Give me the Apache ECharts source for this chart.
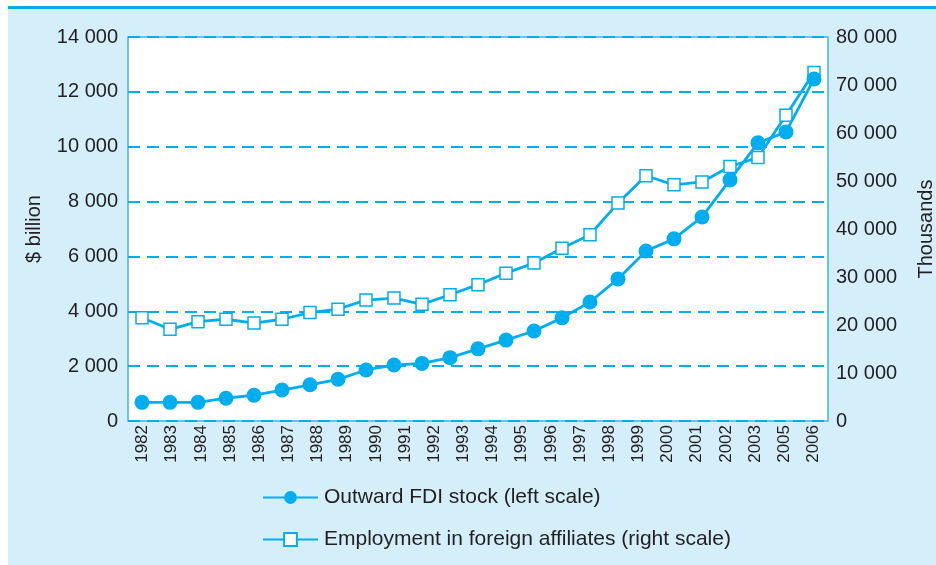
<!DOCTYPE html>
<html>
<head>
<meta charset="utf-8">
<script src="https://cdn.jsdelivr.net/npm/echarts@6/dist/echarts.min.js"></script>
<style>
  html, body { margin: 0; padding: 0; background: #fff; }
  #chart { width: 936px; height: 565px; }
</style>
</head>
<body>
<div id="chart"></div>
<script>
"use strict";
// data years (25 points) and the printed axis labels (24, no 2004)
var years = ['1982','1983','1984','1985','1986','1987','1988','1989','1990','1991','1992','1993',
             '1994','1995','1996','1997','1998','1999','2000','2001','2002','2003','2004','2005','2006'];
var yearLabels = ['1982','1983','1984','1985','1986','1987','1988','1989','1990','1991','1992','1993',
                  '1994','1995','1996','1997','1998','1999','2000','2001','2002','2003','2005','2006'];
// $ billion
var fdiStock = [680, 680, 680, 830, 940, 1130, 1320, 1520, 1860, 2040, 2100, 2310,
                2630, 2950, 3280, 3760, 4340, 5180, 6200, 6640, 7440, 8790, 10140, 10540, 12470];
// thousands
var employment = [21500, 19100, 20700, 21200, 20400, 21200, 22600, 23300, 25200, 25600, 24300, 26300,
                  28400, 30800, 32900, 36000, 38800, 45400, 51100, 49200, 49800, 53000, 54900, 63700, 72600];

var BLUE = '#00aeef';
var TXT = '#231f20';
var FONT = 'Liberation Sans, Arial, sans-serif';

var fmt = function (v) {
  return String(v).replace(/\B(?=(\d{3})+(?!\d))/g, ' ');
};

var myChart = echarts.init(document.getElementById('chart'), null, { renderer: 'canvas' });
myChart.setOption({
  animation: false,
  backgroundColor: '#ffffff',
  textStyle: { fontFamily: FONT, color: TXT },
  graphic: [
    { type: 'rect', z: -10, shape: { x: 8, y: 9, width: 928, height: 556 }, style: { fill: '#d4eefa' } },
    { type: 'rect', z: -10, shape: { x: 8, y: 6, width: 928, height: 3 }, style: { fill: BLUE } }
  ],
  grid: {
    left: 128, right: 108, top: 37, bottom: 144,
    outerBoundsMode: 'none',
    show: true, backgroundColor: '#ffffff', borderColor: '#3fb4e6', borderWidth: 1.5
  },
  legend: {
    orient: 'vertical',
    left: 257, top: 482,
    itemWidth: 55, itemHeight: 16,
    itemGap: 21,
    textStyle: { fontSize: 21, color: TXT, fontFamily: FONT, padding: [0, 0, 0, 1] },
    data: [
      { name: 'Outward FDI stock (left scale)' },
      { name: 'Employment in foreign affiliates (right scale)' }
    ]
  },
  xAxis: [{
    type: 'category',
    data: years,
    boundaryGap: true,
    axisLine: { show: false },
    axisTick: { show: false },
    axisLabel: { show: false },
    splitLine: { show: false }
  }, {
    type: 'category',
    position: 'bottom',
    data: yearLabels,
    boundaryGap: true,
    axisLine: { show: false },
    axisTick: { show: false },
    splitLine: { show: false },
    axisLabel: {
      rotate: 90, interval: 0, margin: 4,
      fontSize: 17, color: TXT, fontFamily: FONT
    }
  }],
  yAxis: [{
    type: 'value',
    min: 0, max: 14000, interval: 2000,
    name: '$ billion',
    nameLocation: 'middle', nameRotate: 90, nameGap: 84,
    nameTextStyle: { fontSize: 20, color: TXT },
    axisLine: { show: false },
    axisTick: { show: false },
    axisLabel: { fontSize: 20, color: TXT, margin: 10, formatter: fmt },
    splitLine: { show: true, lineStyle: { color: BLUE, width: 2, type: [12, 7] } }
  }, {
    type: 'value',
    min: 0, max: 80000, interval: 10000,
    name: 'Thousands',
    nameLocation: 'middle', nameRotate: 90, nameGap: 88,
    nameTextStyle: { fontSize: 20, color: TXT, verticalAlign: 'top' },
    axisLine: { show: false },
    axisTick: { show: false },
    axisLabel: { fontSize: 20, color: TXT, margin: 8, formatter: fmt },
    splitLine: { show: false }
  }],
  series: [{
    name: 'Outward FDI stock (left scale)',
    type: 'line',
    xAxisIndex: 0, yAxisIndex: 0,
    data: fdiStock,
    symbol: 'circle', symbolSize: 15,
    lineStyle: { color: BLUE, width: 2.8 },
    itemStyle: { color: BLUE, borderColor: BLUE, borderWidth: 0 },
    z: 3
  }, {
    name: 'Employment in foreign affiliates (right scale)',
    type: 'line',
    xAxisIndex: 0, yAxisIndex: 1,
    data: employment,
    symbol: 'rect', symbolSize: 12,
    lineStyle: { color: BLUE, width: 2.8 },
    itemStyle: { color: '#ffffff', borderColor: BLUE, borderWidth: 1.5 },
    z: 2
  }]
});
</script>
</body>
</html>
